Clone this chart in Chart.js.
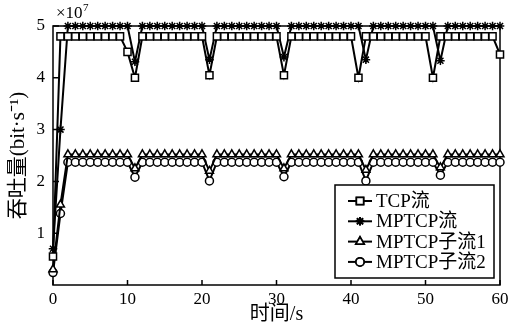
<!DOCTYPE html>
<html>
<head>
<meta charset="utf-8">
<script src="https://cdn.jsdelivr.net/npm/chart.js"></script>
<style>
  body { margin: 0; background: #fff; }
  canvas { display: block; }
</style>
</head>
<body>
<canvas id="throughput-chart" width="518" height="329"></canvas>
<script>
// 时间 (s)
const timeSec = [0, 1, 2, 3, 4, 5, 6, 7, 8, 9, 10, 11, 12, 13, 14, 15, 16, 17, 18, 19, 20,
  21, 22, 23, 24, 25, 26, 27, 28, 29, 30, 31, 32, 33, 34, 35, 36, 37, 38, 39, 40,
  41, 42, 43, 44, 45, 46, 47, 48, 49, 50, 51, 52, 53, 54, 55, 56, 57, 58, 59, 60];

// 吞吐量, 单位 ×10^7 bit/s
const tcpFlow = [0.55, 4.8, 4.8, 4.8, 4.8, 4.8, 4.8, 4.8, 4.8, 4.8, 4.5, 4.0, 4.8, 4.8, 4.8, 4.8, 4.8, 4.8, 4.8, 4.8, 4.8,
  4.05, 4.8, 4.8, 4.8, 4.8, 4.8, 4.8, 4.8, 4.8, 4.8, 4.05, 4.8, 4.8, 4.8, 4.8, 4.8, 4.8, 4.8, 4.8, 4.8,
  4.0, 4.8, 4.8, 4.8, 4.8, 4.8, 4.8, 4.8, 4.8, 4.8, 4.0, 4.8, 4.8, 4.8, 4.8, 4.8, 4.8, 4.8, 4.8, 4.45];
const mptcpFlow = [0.7, 3.0, 5.0, 5.0, 5.0, 5.0, 5.0, 5.0, 5.0, 5.0, 5.0, 4.31, 5.0, 5.0, 5.0, 5.0, 5.0, 5.0, 5.0, 5.0, 5.0,
  4.35, 5.0, 5.0, 5.0, 5.0, 5.0, 5.0, 5.0, 5.0, 5.0, 4.4, 5.0, 5.0, 5.0, 5.0, 5.0, 5.0, 5.0, 5.0, 5.0,
  5.0, 4.35, 5.0, 5.0, 5.0, 5.0, 5.0, 5.0, 5.0, 5.0, 5.0, 4.33, 5.0, 5.0, 5.0, 5.0, 5.0, 5.0, 5.0, 5.0];
const subFlow1 = [0.3, 1.55, 2.52, 2.52, 2.52, 2.52, 2.52, 2.52, 2.52, 2.52, 2.52, 2.25, 2.52, 2.52, 2.52, 2.52, 2.52, 2.52, 2.52, 2.52, 2.52,
  2.2, 2.52, 2.52, 2.52, 2.52, 2.52, 2.52, 2.52, 2.52, 2.52, 2.25, 2.52, 2.52, 2.52, 2.52, 2.52, 2.52, 2.52, 2.52, 2.52,
  2.52, 2.22, 2.52, 2.52, 2.52, 2.52, 2.52, 2.52, 2.52, 2.52, 2.52, 2.27, 2.52, 2.52, 2.52, 2.52, 2.52, 2.52, 2.52, 2.52];
const subFlow2 = [0.24, 1.38, 2.37, 2.37, 2.37, 2.37, 2.37, 2.37, 2.37, 2.37, 2.37, 2.08, 2.37, 2.37, 2.37, 2.37, 2.37, 2.37, 2.37, 2.37, 2.37,
  2.01, 2.37, 2.37, 2.37, 2.37, 2.37, 2.37, 2.37, 2.37, 2.37, 2.09, 2.37, 2.37, 2.37, 2.37, 2.37, 2.37, 2.37, 2.37, 2.37,
  2.37, 2.01, 2.37, 2.37, 2.37, 2.37, 2.37, 2.37, 2.37, 2.37, 2.37, 2.12, 2.37, 2.37, 2.37, 2.37, 2.37, 2.37, 2.37, 2.37];

const seriesNames = ["TCP流", "MPTCP流", "MPTCP子流1", "MPTCP子流2"];
const xTicks = [0, 10, 20, 30, 40, 50, 60];
const yTicks = [1, 2, 3, 4, 5];

const serif = "'Liberation Serif', 'Times New Roman', 'Noto Sans CJK SC', serif";
const black = "#000";

const toPoints = arr => arr.map((v, i) => ({ x: timeSec[i], y: v }));

function series(label, values, style, radius) {
  return {
    label: label,
    data: toPoints(values),
    borderColor: black,
    borderWidth: 2,
    pointStyle: style,
    pointRadius: radius,
    pointBackgroundColor: "#fff",
    pointBorderColor: black,
    pointBorderWidth: 1.5,
    tension: 0,
    clip: false,
  };
}

const datasets = [
  series(seriesNames[0], tcpFlow, "rect", 5),
  series(seriesNames[1], mptcpFlow, "star", 4.3),
  series(seriesNames[2], subFlow1, "triangle", 4.6),
  series(seriesNames[3], subFlow2, "circle", 4),
];

// 边框, 内向刻度, ×10^7 和图例
const matlabStyle = {
  id: "matlabStyle",
  beforeDatasetsDraw(chart) {
    const { ctx, chartArea: a, scales } = chart;
    ctx.save();
    ctx.strokeStyle = black;
    ctx.lineWidth = 1.5;
    ctx.strokeRect(a.left, a.top, a.right - a.left, a.bottom - a.top);

    ctx.beginPath();
    xTicks.forEach(t => {
      const px = scales.x.getPixelForValue(t);
      ctx.moveTo(px, a.bottom);
      ctx.lineTo(px, a.bottom - 5);
    });
    yTicks.forEach(t => {
      const py = scales.y.getPixelForValue(t);
      ctx.moveTo(a.left, py);
      ctx.lineTo(a.left + 6, py);
    });
    ctx.stroke();
    ctx.restore();
  },
  afterDraw(chart) {
    const { ctx, chartArea: a } = chart;
    ctx.save();
    // 指数
    ctx.fillStyle = black;
    ctx.textBaseline = "alphabetic";
    ctx.textAlign = "left";
    ctx.font = "17px " + serif;
    ctx.fillText("×10", a.left + 3, a.top - 8);
    const w = ctx.measureText("×10").width;
    ctx.font = "11px " + serif;
    ctx.fillText("7", a.left + 3 + w + 0.5, a.top - 15);

    // 图例
    const box = { x: 335, y: 185, w: 159, h: 93 };
    ctx.fillStyle = "#fff";
    ctx.fillRect(box.x, box.y, box.w, box.h);
    ctx.strokeStyle = black;
    ctx.lineWidth = 1.5;
    ctx.strokeRect(box.x, box.y, box.w, box.h);
    ctx.font = "19px " + serif;
    ctx.textBaseline = "middle";
    chart.data.datasets.forEach((ds, i) => {
      const y = box.y + 16 + i * 20.3;
      ctx.beginPath();
      ctx.lineWidth = 2;
      ctx.strokeStyle = black;
      ctx.moveTo(box.x + 13, y);
      ctx.lineTo(box.x + 37, y);
      ctx.stroke();
      Chart.helpers.drawPoint(ctx, {
        pointStyle: ds.pointStyle,
        radius: ds.pointRadius,
        borderWidth: 1.5,
      }, box.x + 25, y);
      ctx.fillStyle = "#fff";
      ctx.strokeStyle = black;
      ctx.lineWidth = 1.5;
      ctx.fill();
      ctx.stroke();
      ctx.fillStyle = black;
      ctx.fillText(ds.label, box.x + 41, y + 1);
    });
    ctx.restore();
  },
};

const ctx = document.getElementById("throughput-chart").getContext("2d");

new Chart(ctx, {
  type: "line",
  data: { datasets: datasets },
  options: {
    responsive: false,
    animation: false,
    layout: { padding: { left: 0, right: 18, top: 26, bottom: 0 } },
    plugins: {
      legend: { display: false },
      tooltip: { enabled: false },
    },
    scales: {
      x: {
        type: "linear",
        min: 0,
        max: 60,
        afterFit: s => { s.height = 44; },
        afterBuildTicks: s => { s.ticks = xTicks.map(v => ({ value: v })); },
        grid: { display: false, drawTicks: false },
        border: { display: false },
        ticks: {
          color: black,
          padding: 4,
          maxRotation: 0,
          font: { family: serif, size: 17 },
        },
        title: {
          display: true,
          text: "时间/s",
          color: black,
          padding: { top: 0, bottom: 4 },
          font: { family: serif, size: 20, lineHeight: 1 },
        },
      },
      y: {
        type: "linear",
        min: 0,
        max: 5,
        afterFit: s => { s.width = 53; },
        afterBuildTicks: s => { s.ticks = yTicks.map(v => ({ value: v })); },
        grid: { display: false, drawTicks: false },
        border: { display: false },
        ticks: {
          color: black,
          padding: 8,
          font: { family: serif, size: 17 },
        },
        title: {
          display: true,
          text: "吞吐量(bit·s⁻¹)",
          color: black,
          padding: { top: 8, bottom: 0 },
          font: { family: serif, size: 21, lineHeight: 1 },
        },
      },
    },
  },
  plugins: [matlabStyle],
});
</script>
</body>
</html>
